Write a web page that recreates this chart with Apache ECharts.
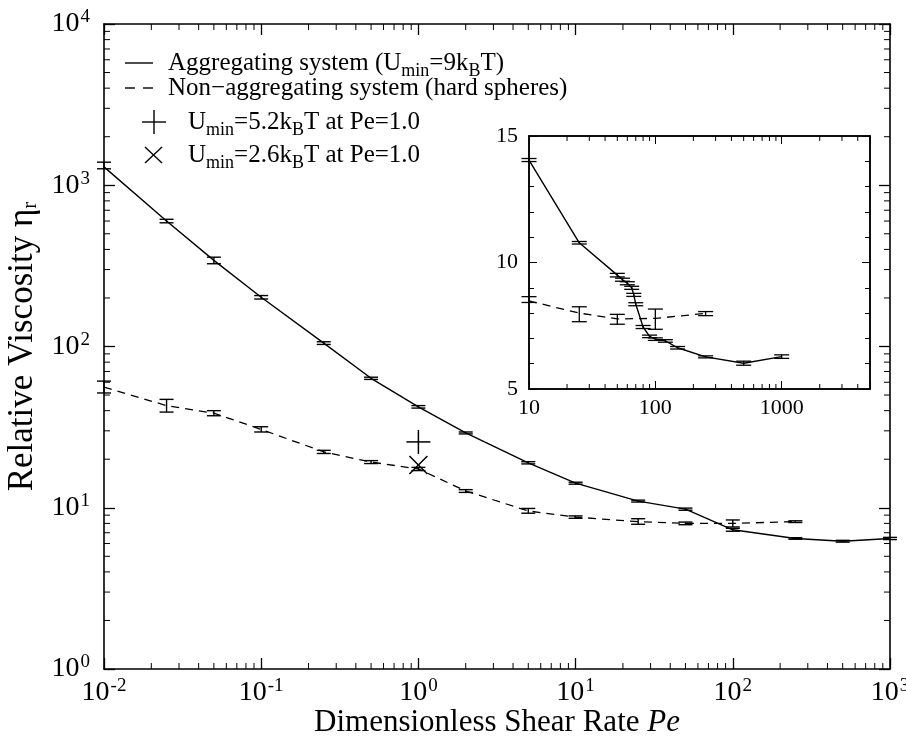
<!DOCTYPE html>
<html><head><meta charset="utf-8">
<script src="https://cdn.jsdelivr.net/npm/echarts@6/dist/echarts.min.js"></script>
<style>html,body{margin:0;padding:0;background:#fff}#c{width:906px;height:743px}</style>
</head><body><div id="c"></div>
<script>
// ---------- DATA ----------
// Main plot: aggregating system (solid)
const PE_MAIN_AGG  = [0.01, 0.025, 0.05, 0.1, 0.25, 0.5, 1, 2, 5, 10, 25, 50, 100, 250, 500, 1000];
const ETA_MAIN_AGG = [1300, 600, 342, 202, 105, 63.5, 42.2, 29.1, 19.0, 14.2, 11.0, 9.8, 7.3, 6.45, 6.2, 6.45];
const LO_MAIN_AGG  = [1265, 585, 326, 197, 103, 62.5, 41.5, 28.7, 18.7, 14.0, 10.85, 9.65, 7.15, 6.38, 6.12, 6.35];
const HI_MAIN_AGG  = [1390, 615, 358, 207, 107, 64.5, 43.0, 29.5, 19.3, 14.4, 11.15, 9.95, 7.45, 6.52, 6.28, 6.55];
// Main plot: non-aggregating (hard spheres, dashed)
const PE_MAIN_HS  = [0.01, 0.025, 0.05, 0.1, 0.25, 0.5, 1, 2, 5, 10, 25, 50, 100, 250];
const ETA_MAIN_HS = [56, 43, 38.6, 30.6, 22.2, 19.2, 17.4, 12.7, 9.55, 8.75, 8.2, 8.0, 8.0, 8.2];
const LO_MAIN_HS  = [51.5, 39.2, 37.2, 29.5, 21.7, 18.8, 17.0, 12.45, 9.25, 8.6, 7.9, 7.85, 7.6, 8.1];
const HI_MAIN_HS  = [61, 47, 40, 31.8, 22.7, 19.6, 17.8, 12.95, 9.9, 8.9, 8.55, 8.15, 8.4, 8.3];
// Single points at Pe = 1.0
const PLUS_POINT  = [1.0, 25.6];   // Umin = 5.2 kBT
const CROSS_POINT = [1.0, 18.4];   // Umin = 2.6 kBT
// Inset: aggregating (solid)
const PE_INS_AGG  = [10, 25, 50, 55, 60, 65, 67.5, 70, 80, 90, 100, 120, 150, 250, 500, 1000];
const ETA_INS_AGG = [14.05, 10.78, 9.5, 9.32, 9.18, 9.0, 8.72, 8.35, 7.45, 7.08, 6.97, 6.9, 6.63, 6.27, 6.02, 6.28];
const LO_INS_AGG  = [13.99, 10.73, 9.43, 9.26, 9.12, 8.94, 8.66, 8.29, 7.39, 7.03, 6.92, 6.85, 6.58, 6.23, 5.94, 6.21];
const HI_INS_AGG  = [14.11, 10.83, 9.57, 9.38, 9.24, 9.06, 8.78, 8.41, 7.51, 7.13, 7.02, 6.95, 6.68, 6.31, 6.10, 6.35];
// Inset: non-aggregating (dashed)
const PE_INS_HS  = [10, 25, 50, 100, 250];
const ETA_INS_HS = [8.48, 8.0, 7.77, 7.79, 7.99];
const LO_INS_HS  = [8.42, 7.66, 7.56, 7.36, 7.90];
const HI_INS_HS  = [8.65, 8.25, 7.95, 8.16, 8.06];
// Axis ticks
const MAIN_X_DECADES = [0.01, 0.1, 1, 10, 100];
const MAIN_Y_DECADES = [1, 10, 100, 1000];
const INS_X_DECADES = [10, 100, 1000];
const MINOR_MULT = [2, 3, 4, 5, 6, 7, 8, 9];
const INS_Y_TICKS = [5, 10, 15];
// Legend texts
const LEGEND_TEXTS = [
  'Aggregating system (U{sub|min}=9k{sub|B}T)',
  'Non\u2212aggregating system (hard spheres)',
  'U{sub|min}=5.2k{sub|B}T at Pe=1.0',
  'U{sub|min}=2.6k{sub|B}T at Pe=1.0'
];
const X_TITLE = 'Dimensionless Shear Rate {i|Pe}';
const Y_TITLE = 'Relative Viscosity {g|\u03b7}{sub|r}';

// ---------- HELPERS ----------
const FONT = '"Liberation Serif", "Times New Roman", serif';
const BLACK = '#000';
function minorList(decades, maxV) {
  const out = [];
  decades.forEach(d => MINOR_MULT.forEach(m => { const v = d * m; if (v < maxV * 0.9999) out.push(v); }));
  return out;
}
function zip3(a, b, c) { return a.map((v, i) => [v, b[i], c[i]]); }
function zip2(a, b) { return a.map((v, i) => [v, b[i]]); }
function supLabel(v) {
  const e = Math.round(Math.log10(v));
  if (Math.abs(Math.pow(10, e) - v) / v > 1e-6) return '';
  return '{b|10}{s|' + e + '}';
}
function errRender(capHalf, lw) {
  return function (params, api) {
    const x = api.value(0), lo = api.value(1), hi = api.value(2);
    const p1 = api.coord([x, lo]), p2 = api.coord([x, hi]);
    const st = { stroke: BLACK, lineWidth: lw };
    return { type: 'group', children: [
      { type: 'line', shape: { x1: p1[0], y1: p1[1], x2: p2[0], y2: p2[1] }, style: st },
      { type: 'line', shape: { x1: p1[0] - capHalf, y1: p1[1], x2: p1[0] + capHalf, y2: p1[1] }, style: st },
      { type: 'line', shape: { x1: p2[0] - capHalf, y1: p2[1], x2: p2[0] + capHalf, y2: p2[1] }, style: st }
    ]};
  };
}
function xMinorRender(yMin, yMax, len) {
  return function (params, api) {
    const v = api.value(0);
    const pb = api.coord([v, yMin]), pt = api.coord([v, yMax]);
    const st = { stroke: BLACK, lineWidth: 1 };
    return { type: 'group', children: [
      { type: 'line', shape: { x1: pb[0], y1: pb[1], x2: pb[0], y2: pb[1] - len }, style: st },
      { type: 'line', shape: { x1: pt[0], y1: pt[1], x2: pt[0], y2: pt[1] + len }, style: st }
    ]};
  };
}
function yMinorRender(xMin, xMax, len) {
  return function (params, api) {
    const v = api.value(1);
    const pl = api.coord([xMin, v]), pr = api.coord([xMax, v]);
    const st = { stroke: BLACK, lineWidth: 1 };
    return { type: 'group', children: [
      { type: 'line', shape: { x1: pl[0], y1: pl[1], x2: pl[0] + len, y2: pl[1] }, style: st },
      { type: 'line', shape: { x1: pr[0], y1: pr[1], x2: pr[0] - len, y2: pr[1] }, style: st }
    ]};
  };
}
function plusRender(half) {
  return function (params, api) {
    const p = api.coord([api.value(0), api.value(1)]);
    const st = { stroke: BLACK, lineWidth: 1.5 };
    return { type: 'group', children: [
      { type: 'line', shape: { x1: p[0] - half, y1: p[1], x2: p[0] + half, y2: p[1] }, style: st },
      { type: 'line', shape: { x1: p[0], y1: p[1] - half, x2: p[0], y2: p[1] + half }, style: st }
    ]};
  };
}
function crossRender(half) {
  return function (params, api) {
    const p = api.coord([api.value(0), api.value(1)]);
    const st = { stroke: BLACK, lineWidth: 1.5 };
    return { type: 'group', children: [
      { type: 'line', shape: { x1: p[0] - half, y1: p[1] - half, x2: p[0] + half, y2: p[1] + half }, style: st },
      { type: 'line', shape: { x1: p[0] - half, y1: p[1] + half, x2: p[0] + half, y2: p[1] - half }, style: st }
    ]};
  };
}

const axisLineStyle = { lineStyle: { color: BLACK, width: 1.6 } };
const supRich = {
  b: { fontFamily: FONT, fontSize: 28, color: BLACK, lineHeight: 32, verticalAlign: 'middle' },
  s: { fontFamily: FONT, fontSize: 19, color: BLACK, lineHeight: 16, verticalAlign: 'top', padding: [0, 0, 0, 1] }
};

const MAIN = { xMin: 0.01, xMax: 1000, yMin: 1, yMax: 10000 };
const INS = { xMin: 10, xMax: 5000, yMin: 5, yMax: 15 };

const chart = echarts.init(document.getElementById('c'), null, { renderer: 'canvas' });
const option = {
  backgroundColor: '#fff',
  animation: false,
  grid: [
    { left: 104, top: 24, width: 786, height: 645, show: false, outerBoundsMode: 'none', containLabel: false },
    { left: 529, top: 136, width: 341, height: 253, show: true, backgroundColor: '#fff', borderColor: BLACK, borderWidth: 1.5, z: 5,
      outerBoundsMode: 'none', containLabel: false }
  ],
  xAxis: [
    { gridIndex: 0, type: 'log', logBase: 10, min: MAIN.xMin, max: MAIN.xMax, position: 'bottom',
      axisLine: axisLineStyle, axisTick: { inside: true, length: 11, lineStyle: { color: BLACK, width: 1.3 } },
      splitLine: { show: false },
      axisLabel: { margin: 8, formatter: supLabel, rich: supRich, showMaxLabel: true },
      name: X_TITLE, nameLocation: 'middle', nameGap: 37, nameMoveOverlap: false,
      nameTextStyle: { fontFamily: FONT, fontSize: 31, color: BLACK, lineHeight: 34,
        rich: { i: { fontFamily: FONT, fontSize: 31, fontStyle: 'italic', color: BLACK } } } },
    { gridIndex: 0, type: 'log', logBase: 10, min: MAIN.xMin, max: MAIN.xMax, position: 'top',
      axisLine: axisLineStyle, axisTick: { inside: true, length: 11, lineStyle: { color: BLACK, width: 1.3 } },
      splitLine: { show: false }, axisLabel: { show: false } },
    { gridIndex: 1, type: 'log', logBase: 10, min: INS.xMin, max: INS.xMax, position: 'bottom', z: 6,
      axisLine: { lineStyle: { color: BLACK, width: 1.5 } }, axisTick: { inside: true, length: 8, lineStyle: { color: BLACK } },
      splitLine: { show: false },
      axisLabel: { margin: 8, fontFamily: FONT, fontSize: 22, color: BLACK,
        formatter: v => (INS_X_DECADES.some(d => Math.abs(d - v) / d < 1e-6) ? String(Math.round(v)) : '') } },
    { gridIndex: 1, type: 'log', logBase: 10, min: INS.xMin, max: INS.xMax, position: 'top', z: 6,
      axisLine: { lineStyle: { color: BLACK, width: 1.5 } }, axisTick: { inside: true, length: 8, lineStyle: { color: BLACK } },
      splitLine: { show: false }, axisLabel: { show: false } }
  ],
  yAxis: [
    { gridIndex: 0, type: 'log', logBase: 10, min: MAIN.yMin, max: MAIN.yMax, position: 'left',
      axisLine: axisLineStyle, axisTick: { inside: true, length: 11, lineStyle: { color: BLACK, width: 1.3 } },
      splitLine: { show: false },
      axisLabel: { margin: 14, formatter: supLabel, rich: supRich },
      name: Y_TITLE, nameLocation: 'middle', nameGap: 44, nameRotate: 90,
      nameTextStyle: { fontFamily: FONT, fontSize: 35, color: BLACK, lineHeight: 36,
        rich: { g: { fontFamily: FONT, fontSize: 35, color: BLACK, lineHeight: 36, verticalAlign: 'middle' },
                sub: { fontFamily: FONT, fontSize: 21, color: BLACK, lineHeight: 14, verticalAlign: 'bottom' } } } },
    { gridIndex: 0, type: 'log', logBase: 10, min: MAIN.yMin, max: MAIN.yMax, position: 'right',
      axisLine: axisLineStyle, axisTick: { inside: true, length: 11, lineStyle: { color: BLACK, width: 1.3 } },
      splitLine: { show: false }, axisLabel: { show: false } },
    { gridIndex: 1, type: 'value', min: INS.yMin, max: INS.yMax, interval: 5, position: 'left', z: 6,
      axisLine: { show: true, lineStyle: { color: BLACK, width: 1.5 } },
      axisTick: { show: true, inside: true, length: 8, lineStyle: { color: BLACK } },
      minorTick: { show: true, splitNumber: 5, length: 5, lineStyle: { color: BLACK } },
      splitLine: { show: false },
      axisLabel: { margin: 11, fontFamily: FONT, fontSize: 22, color: BLACK } },
    { gridIndex: 1, type: 'value', min: INS.yMin, max: INS.yMax, interval: 5, position: 'right', z: 6,
      axisLine: { show: true, lineStyle: { color: BLACK, width: 1.5 } },
      axisTick: { show: true, inside: true, length: 8, lineStyle: { color: BLACK } },
      minorTick: { show: true, splitNumber: 5, length: 5, lineStyle: { color: BLACK } },
      splitLine: { show: false }, axisLabel: { show: false } }
  ],
  series: [
    // main minor ticks
    { type: 'custom', xAxisIndex: 0, yAxisIndex: 0, silent: true, clip: false,
      data: minorList(MAIN_X_DECADES, MAIN.xMax).map(v => [v, MAIN.yMin]), encode: { x: 0, y: 1 },
      renderItem: xMinorRender(MAIN.yMin, MAIN.yMax, 6) },
    { type: 'custom', xAxisIndex: 0, yAxisIndex: 0, silent: true, clip: false,
      data: minorList(MAIN_Y_DECADES, MAIN.yMax).map(v => [MAIN.xMin, v]), encode: { x: 0, y: 1 },
      renderItem: yMinorRender(MAIN.xMin, MAIN.xMax, 6) },
    // main curves
    { type: 'line', xAxisIndex: 0, yAxisIndex: 0, data: zip2(PE_MAIN_AGG, ETA_MAIN_AGG), showSymbol: false,
      lineStyle: { color: BLACK, width: 1.4 } },
    { type: 'line', xAxisIndex: 0, yAxisIndex: 0, data: zip2(PE_MAIN_HS, ETA_MAIN_HS), showSymbol: false,
      lineStyle: { color: BLACK, width: 1.3, type: [8, 6] } },
    { type: 'custom', xAxisIndex: 0, yAxisIndex: 0, clip: false, data: zip3(PE_MAIN_AGG, LO_MAIN_AGG, HI_MAIN_AGG),
      encode: { x: 0, y: [1, 2] }, renderItem: errRender(7, 1.4) },
    { type: 'custom', xAxisIndex: 0, yAxisIndex: 0, clip: false, data: zip3(PE_MAIN_HS, LO_MAIN_HS, HI_MAIN_HS),
      encode: { x: 0, y: [1, 2] }, renderItem: errRender(7, 1.4) },
    { type: 'custom', xAxisIndex: 0, yAxisIndex: 0, clip: false, data: [PLUS_POINT],
      encode: { x: 0, y: 1 }, renderItem: plusRender(12) },
    { type: 'custom', xAxisIndex: 0, yAxisIndex: 0, clip: false, data: [CROSS_POINT],
      encode: { x: 0, y: 1 }, renderItem: crossRender(9) },
    // inset minor x ticks
    { type: 'custom', xAxisIndex: 2, yAxisIndex: 2, silent: true, clip: false, z: 7,
      data: minorList(INS_X_DECADES, INS.xMax).map(v => [v, INS.yMin]), encode: { x: 0, y: 1 },
      renderItem: xMinorRender(INS.yMin, INS.yMax, 5) },
    // inset curves
    { type: 'line', xAxisIndex: 2, yAxisIndex: 2, z: 7, data: zip2(PE_INS_AGG, ETA_INS_AGG), showSymbol: false,
      lineStyle: { color: BLACK, width: 1.4 } },
    { type: 'line', xAxisIndex: 2, yAxisIndex: 2, z: 7, data: zip2(PE_INS_HS, ETA_INS_HS), showSymbol: false,
      lineStyle: { color: BLACK, width: 1.3, type: [8, 6] } },
    { type: 'custom', xAxisIndex: 2, yAxisIndex: 2, z: 7, clip: false, data: zip3(PE_INS_AGG, LO_INS_AGG, HI_INS_AGG),
      encode: { x: 0, y: [1, 2] }, renderItem: errRender(7.5, 1.3) },
    { type: 'custom', xAxisIndex: 2, yAxisIndex: 2, z: 7, clip: false, data: zip3(PE_INS_HS, LO_INS_HS, HI_INS_HS),
      encode: { x: 0, y: [1, 2] }, renderItem: errRender(7.5, 1.3) }
  ],
  graphic: (function () {
    const st = { stroke: BLACK, lineWidth: 1.4 };
    const subRich = { sub: { fontFamily: FONT, fontSize: 18, fill: BLACK, lineHeight: 10, verticalAlign: 'bottom' } };
    const rows = [63, 88, 122, 155];
    const els = [
      { type: 'line', shape: { x1: 125, y1: rows[0], x2: 153, y2: rows[0] }, style: st },
      { type: 'line', shape: { x1: 125, y1: rows[1], x2: 135, y2: rows[1] }, style: st },
      { type: 'line', shape: { x1: 143, y1: rows[1], x2: 153, y2: rows[1] }, style: st },
      { type: 'line', shape: { x1: 142, y1: rows[2], x2: 166, y2: rows[2] }, style: st },
      { type: 'line', shape: { x1: 154, y1: rows[2] - 12, x2: 154, y2: rows[2] + 12 }, style: st },
      { type: 'line', shape: { x1: 145, y1: rows[3] - 8, x2: 162, y2: rows[3] + 8 }, style: st },
      { type: 'line', shape: { x1: 145, y1: rows[3] + 8, x2: 162, y2: rows[3] - 8 }, style: st }
    ];
    const tx = [168, 168, 188, 188];
    LEGEND_TEXTS.forEach((t, i) => {
      els.push({ type: 'text', x: tx[i], y: rows[i], z: 10,
        style: { text: t, fontFamily: FONT, fontSize: 25, fill: BLACK, lineHeight: 34,
                 verticalAlign: 'middle', align: 'left', rich: subRich } });
    });
    return els;
  })()
};
chart.setOption(option);
</script>
</body></html>
